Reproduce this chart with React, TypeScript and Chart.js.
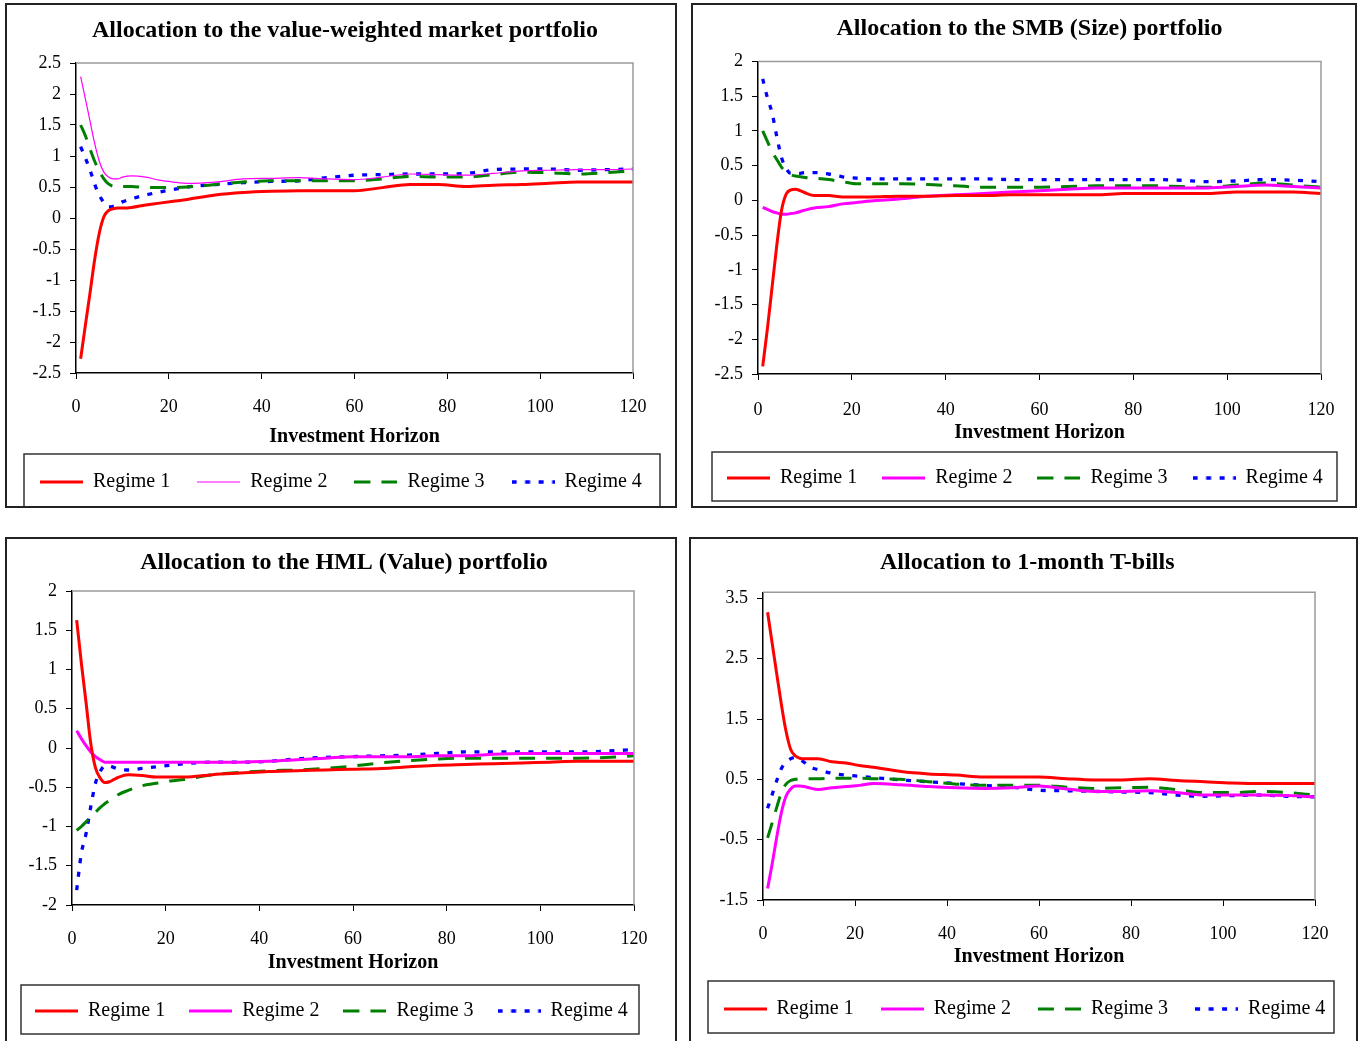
import React, { useEffect, useRef } from 'react';
import { Chart, registerables } from 'chart.js';

Chart.register(...registerables);

// ---------- data ----------
const horizons = [1, 2, 3, 4, 5, 6, 7, 8, 9, 10, 12, 15, 18, 21, 24, 30, 36, 42, 48, 54, 60, 66, 72, 78, 84, 90, 96, 102, 108, 114, 120];
const regimeLabels = ['Regime 1', 'Regime 2', 'Regime 3', 'Regime 4'];
const xTickValues = [0, 20, 40, 60, 80, 100, 120];
const xAxisTitle = 'Investment Horizon';

// Panel 1: value-weighted market portfolio
const mktTitle = 'Allocation to the value-weighted market portfolio';
const mktYTicks = [-2.5, -2, -1.5, -1, -0.5, 0, 0.5, 1, 1.5, 2, 2.5];
const mktRegime1 = [-2.27, -1.74, -1.22, -0.68, -0.25, 0.02, 0.12, 0.15, 0.16, 0.16, 0.17, 0.21, 0.24, 0.27, 0.30, 0.37, 0.41, 0.43, 0.44, 0.44, 0.44, 0.49, 0.54, 0.54, 0.51, 0.53, 0.54, 0.56, 0.58, 0.58, 0.58];
const mktRegime2 = [2.28, 1.93, 1.57, 1.21, 0.92, 0.74, 0.66, 0.63, 0.63, 0.66, 0.68, 0.66, 0.61, 0.58, 0.56, 0.58, 0.63, 0.64, 0.65, 0.63, 0.62, 0.66, 0.71, 0.70, 0.69, 0.72, 0.76, 0.77, 0.78, 0.78, 0.79];
const mktRegime3 = [1.50, 1.33, 1.12, 0.92, 0.76, 0.63, 0.55, 0.51, 0.50, 0.51, 0.51, 0.49, 0.49, 0.49, 0.50, 0.54, 0.58, 0.60, 0.60, 0.60, 0.60, 0.63, 0.67, 0.66, 0.66, 0.70, 0.74, 0.73, 0.71, 0.73, 0.76];
const mktRegime4 = [1.15, 0.97, 0.78, 0.55, 0.37, 0.25, 0.18, 0.19, 0.22, 0.26, 0.31, 0.37, 0.42, 0.46, 0.50, 0.54, 0.57, 0.59, 0.60, 0.65, 0.69, 0.70, 0.71, 0.71, 0.72, 0.78, 0.79, 0.79, 0.77, 0.78, 0.79];

// Panel 2: SMB (Size)
const smbTitle = 'Allocation to the SMB (Size) portfolio';
const smbYTicks = [-2.5, -2, -1.5, -1, -0.5, 0, 0.5, 1, 1.5, 2];
const smbRegime1 = [-2.39, -1.85, -1.25, -0.65, -0.15, 0.09, 0.15, 0.16, 0.14, 0.11, 0.07, 0.07, 0.05, 0.05, 0.05, 0.06, 0.06, 0.07, 0.07, 0.08, 0.08, 0.08, 0.08, 0.10, 0.10, 0.10, 0.10, 0.12, 0.12, 0.12, 0.10];
const smbRegime2 = [-0.10, -0.13, -0.16, -0.18, -0.20, -0.20, -0.19, -0.18, -0.16, -0.14, -0.11, -0.09, -0.05, -0.03, -0.01, 0.02, 0.06, 0.08, 0.10, 0.12, 0.14, 0.16, 0.18, 0.18, 0.18, 0.18, 0.18, 0.20, 0.22, 0.20, 0.18];
const smbRegime3 = [1.00, 0.85, 0.70, 0.59, 0.48, 0.41, 0.37, 0.35, 0.34, 0.33, 0.32, 0.30, 0.27, 0.24, 0.24, 0.24, 0.23, 0.21, 0.19, 0.19, 0.19, 0.20, 0.21, 0.21, 0.21, 0.20, 0.19, 0.22, 0.25, 0.22, 0.19];
const smbRegime4 = [1.75, 1.48, 1.26, 0.92, 0.62, 0.46, 0.39, 0.39, 0.39, 0.40, 0.40, 0.38, 0.34, 0.32, 0.31, 0.31, 0.31, 0.31, 0.31, 0.30, 0.30, 0.30, 0.30, 0.30, 0.30, 0.29, 0.27, 0.28, 0.30, 0.29, 0.27];

// Panel 3: HML (Value)
const hmlTitle = 'Allocation to the HML (Value) portfolio';
const hmlYTicks = [-2, -1.5, -1, -0.5, 0, 0.5, 1, 1.5, 2];
const hmlRegime1 = [1.63, 1.08, 0.58, 0.06, -0.25, -0.38, -0.44, -0.43, -0.40, -0.37, -0.34, -0.35, -0.37, -0.37, -0.37, -0.34, -0.32, -0.30, -0.29, -0.28, -0.27, -0.26, -0.24, -0.22, -0.21, -0.20, -0.19, -0.18, -0.17, -0.17, -0.17];
const hmlRegime2 = [0.22, 0.12, 0.03, -0.05, -0.11, -0.15, -0.18, -0.18, -0.18, -0.18, -0.18, -0.18, -0.18, -0.18, -0.18, -0.18, -0.18, -0.17, -0.15, -0.13, -0.11, -0.11, -0.11, -0.10, -0.10, -0.08, -0.07, -0.07, -0.07, -0.07, -0.07];
const hmlRegime3 = [-1.05, -1.00, -0.94, -0.88, -0.82, -0.76, -0.71, -0.67, -0.63, -0.59, -0.54, -0.48, -0.45, -0.42, -0.40, -0.34, -0.31, -0.29, -0.28, -0.26, -0.23, -0.19, -0.16, -0.14, -0.13, -0.13, -0.13, -0.13, -0.13, -0.12, -0.10];
const hmlRegime4 = [-1.81, -1.34, -1.09, -0.75, -0.45, -0.30, -0.23, -0.23, -0.25, -0.27, -0.28, -0.26, -0.24, -0.22, -0.20, -0.18, -0.18, -0.17, -0.14, -0.12, -0.11, -0.10, -0.09, -0.07, -0.05, -0.05, -0.05, -0.05, -0.05, -0.04, -0.02];

// Panel 4: 1-month T-bills
const tbTitle = 'Allocation to 1-month T-bills';
const tbYTicks = [-1.5, -0.5, 0.5, 1.5, 2.5, 3.5];
const tbRegime1 = [3.27, 2.75, 2.24, 1.74, 1.30, 1.00, 0.89, 0.85, 0.84, 0.84, 0.84, 0.79, 0.77, 0.73, 0.70, 0.63, 0.59, 0.57, 0.54, 0.54, 0.54, 0.51, 0.49, 0.49, 0.51, 0.48, 0.46, 0.44, 0.43, 0.43, 0.43];
const tbRegime2 = [-1.31, -0.90, -0.45, -0.05, 0.22, 0.34, 0.39, 0.39, 0.38, 0.36, 0.33, 0.36, 0.38, 0.40, 0.43, 0.41, 0.38, 0.36, 0.35, 0.36, 0.39, 0.34, 0.30, 0.30, 0.31, 0.28, 0.24, 0.24, 0.24, 0.23, 0.21];
const tbRegime3 = [-0.47, -0.22, 0.04, 0.28, 0.42, 0.48, 0.50, 0.51, 0.51, 0.51, 0.51, 0.52, 0.52, 0.52, 0.51, 0.50, 0.46, 0.42, 0.40, 0.40, 0.40, 0.37, 0.35, 0.36, 0.37, 0.33, 0.28, 0.28, 0.30, 0.28, 0.24];
const tbRegime4 = [0.02, 0.25, 0.48, 0.68, 0.78, 0.84, 0.86, 0.83, 0.78, 0.71, 0.66, 0.60, 0.57, 0.55, 0.53, 0.49, 0.46, 0.43, 0.40, 0.37, 0.32, 0.31, 0.30, 0.29, 0.28, 0.24, 0.22, 0.23, 0.24, 0.22, 0.21];

// ---------- styling ----------
const FONT = "'Liberation Serif', 'Times New Roman', serif";
const regimeColors = ['#FF0000', '#FF00FF', '#008000', '#0000FF'];
const regimeDashes: number[][] = [[], [], [16, 11], [5, 8.5]];
const SAMPLE_W = 43;

type PanelCfg = {
  title: string;
  series: number[][];
  yTicks: number[];
  yMin: number;
  yMax: number;
  magentaWidth: number;
  left: number; top: number; w: number; h: number;
  padTop: number; padLeft: number; padRight: number; padBottom: number;
  titlePadBottom: number;
  yWidth: number; rightWidth: number;
  xHeight: number; xTickPad: number; xTitlePadBottom: number;
  legendPad: number;
  legendBox: [number, number, number, number];
  bottomBorder: boolean;
};

const panels: PanelCfg[] = [
  {
    title: mktTitle, series: [mktRegime1, mktRegime2, mktRegime3, mktRegime4], yTicks: mktYTicks, yMin: -2.5, yMax: 2.5, magentaWidth: 1.2,
    left: 5, top: 3, w: 672, h: 505,
    padTop: 13.6, padLeft: 8, padRight: 0, padBottom: 6, titlePadBottom: 17.6,
    yWidth: 63, rightWidth: 44, xHeight: 72, xTickPad: 17.2, xTitlePadBottom: 0,
    legendPad: 27, legendBox: [19, 451, 636, 53], bottomBorder: true,
  },
  {
    title: smbTitle, series: [smbRegime1, smbRegime2, smbRegime3, smbRegime4], yTicks: smbYTicks, yMin: -2.5, yMax: 2, magentaWidth: 3,
    left: 691, top: 3, w: 666, h: 505,
    padTop: 11.1, padLeft: 11, padRight: 0, padBottom: 10, titlePadBottom: 18.6,
    yWidth: 56, rightWidth: 36, xHeight: 69, xTickPad: 19.2, xTitlePadBottom: 2,
    legendPad: 25, legendBox: [21, 449, 625, 49], bottomBorder: true,
  },
  {
    title: hmlTitle, series: [hmlRegime1, hmlRegime2, hmlRegime3, hmlRegime4], yTicks: hmlYTicks, yMin: -2, yMax: 2, magentaWidth: 3,
    left: 5, top: 537, w: 672, h: 504,
    padTop: 11.6, padLeft: 6, padRight: 0, padBottom: 10, titlePadBottom: 13.6,
    yWidth: 61, rightWidth: 43, xHeight: 72, xTickPad: 17.2, xTitlePadBottom: 6,
    legendPad: 24, legendBox: [16, 448, 618, 49], bottomBorder: false,
  },
  {
    title: tbTitle, series: [tbRegime1, tbRegime2, tbRegime3, tbRegime4], yTicks: tbYTicks, yMin: -1.5, yMax: 3.6, magentaWidth: 3,
    left: 689, top: 537, w: 669, h: 504,
    padTop: 11.6, padLeft: 7.5, padRight: 0, padBottom: 12, titlePadBottom: 14.9,
    yWidth: 66.5, rightWidth: 43, xHeight: 72, xTickPad: 17.2, xTitlePadBottom: 7,
    legendPad: 27, legendBox: [19, 444, 626, 52], bottomBorder: false,
  },
];

// small canvas image used as the legend sample so dashes show in the legend
function makeSample(color: string, width: number, dash: number[]) {
  const c = document.createElement('canvas');
  c.width = SAMPLE_W;
  c.height = 8;
  const g = c.getContext('2d') as CanvasRenderingContext2D;
  g.strokeStyle = color;
  g.lineWidth = width;
  g.lineCap = 'butt';
  g.setLineDash(dash);
  g.beginPath();
  g.moveTo(0, 4);
  g.lineTo(SAMPLE_W, 4);
  g.stroke();
  return c;
}

const decorPlugin = {
  id: 'decor',
  afterDraw(chart: any, _args: any, opts: any) {
    const { ctx, chartArea: a, width, height } = chart;
    ctx.save();
    ctx.setLineDash([]);
    // gray top and right edges of the plot area
    ctx.strokeStyle = '#9a9a9a';
    ctx.lineWidth = 1.5;
    ctx.beginPath();
    ctx.moveTo(a.left, a.top);
    ctx.lineTo(a.right, a.top);
    ctx.lineTo(a.right, a.bottom);
    ctx.stroke();
    // legend frame
    const [lx, ly, lw, lh] = opts.legendBox;
    ctx.strokeStyle = '#333';
    ctx.lineWidth = 1.5;
    ctx.strokeRect(lx, ly, lw, lh);
    // outer frame
    ctx.strokeStyle = '#222';
    ctx.lineWidth = 2;
    ctx.beginPath();
    if (opts.bottomBorder) {
      ctx.rect(1, 1, width - 2, height - 2);
    } else {
      ctx.moveTo(1, height);
      ctx.lineTo(1, 1);
      ctx.lineTo(width - 1, 1);
      ctx.lineTo(width - 1, height);
    }
    ctx.stroke();
    ctx.restore();
  },
};

function Panel({ cfg }: { cfg: PanelCfg }) {
  const ref = useRef<HTMLCanvasElement>(null);
  useEffect(() => {
    const tickFont = { family: FONT, size: 18 };
    const datasets = cfg.series.map((vals, i) => {
      const bw = i === 1 ? cfg.magentaWidth : i === 3 ? 3.3 : 3;
      return {
        label: regimeLabels[i],
        data: horizons.map((h, j) => ({ x: h, y: vals[j] })),
        borderColor: regimeColors[i],
        backgroundColor: regimeColors[i],
        borderWidth: bw,
        borderDash: regimeDashes[i],
        borderCapStyle: 'butt' as const,
        pointRadius: 0,
        pointHoverRadius: 0,
        pointStyle: makeSample(regimeColors[i], bw, regimeDashes[i]),
        cubicInterpolationMode: 'monotone' as const,
        fill: false,
      };
    });
    const chart = new Chart(ref.current as HTMLCanvasElement, {
      type: 'line',
      data: { datasets },
      plugins: [decorPlugin],
      options: {
        responsive: false,
        animation: false,
        events: [],
        layout: { padding: { top: cfg.padTop, left: cfg.padLeft, right: cfg.padRight, bottom: cfg.padBottom } },
        plugins: {
          title: {
            display: true,
            text: cfg.title,
            color: '#000',
            font: { family: FONT, size: 24, weight: 'bold', lineHeight: 1.2 },
            padding: { top: 0, bottom: cfg.titlePadBottom },
          },
          legend: {
            display: true,
            position: 'bottom',
            align: 'start',
            labels: {
              usePointStyle: true,
              pointStyleWidth: SAMPLE_W,
              color: '#000',
              font: { family: FONT, size: 20 },
              padding: cfg.legendPad,
            },
          },
          tooltip: { enabled: false },
          decor: { legendBox: cfg.legendBox, bottomBorder: cfg.bottomBorder },
        } as any,
        scales: {
          x: {
            type: 'linear',
            position: 'bottom',
            min: 0,
            max: 120,
            afterBuildTicks: (s: any) => { s.ticks = xTickValues.map((v) => ({ value: v })); },
            afterFit: (s: any) => { s.height = cfg.xHeight; },
            ticks: { padding: cfg.xTickPad, color: '#000', font: tickFont, maxRotation: 0, autoSkip: false, callback: (v: any) => String(v) },
            grid: { display: true, drawOnChartArea: false, drawTicks: true, tickLength: 6, color: '#000', lineWidth: 1 },
            border: { display: true, color: '#000', width: 1.5 },
            title: {
              display: true,
              text: xAxisTitle,
              color: '#000',
              font: { family: FONT, size: 20, weight: 'bold', lineHeight: 0.8 },
              padding: { top: 0, bottom: cfg.xTitlePadBottom },
            },
          },
          y: {
            type: 'linear',
            position: 'left',
            min: cfg.yMin,
            max: cfg.yMax,
            afterBuildTicks: (s: any) => { s.ticks = cfg.yTicks.map((v) => ({ value: v })); },
            afterFit: (s: any) => { s.width = cfg.yWidth; },
            ticks: { padding: 9, color: '#000', font: tickFont, autoSkip: false, callback: (v: any) => String(v) },
            grid: { display: true, drawOnChartArea: false, drawTicks: true, tickLength: 6, color: '#000', lineWidth: 1 },
            border: { display: true, color: '#000', width: 1.5 },
          },
          yRight: {
            type: 'linear',
            position: 'right',
            display: true,
            afterFit: (s: any) => { s.width = cfg.rightWidth; },
            ticks: { display: false },
            grid: { display: false },
            border: { display: false },
          },
        } as any,
      },
    });
    return () => chart.destroy();
  }, [cfg]);
  return (
    <canvas
      ref={ref}
      width={cfg.w}
      height={cfg.h}
      style={{ position: 'absolute', left: cfg.left, top: cfg.top, width: cfg.w, height: cfg.h }}
    />
  );
}

export default function App() {
  return (
    <div style={{ position: 'absolute', left: 0, top: 0, width: 1360, height: 1041, background: '#fff', overflow: 'hidden' }}>
      {panels.map((p, i) => (
        <Panel key={i} cfg={p} />
      ))}
    </div>
  );
}
